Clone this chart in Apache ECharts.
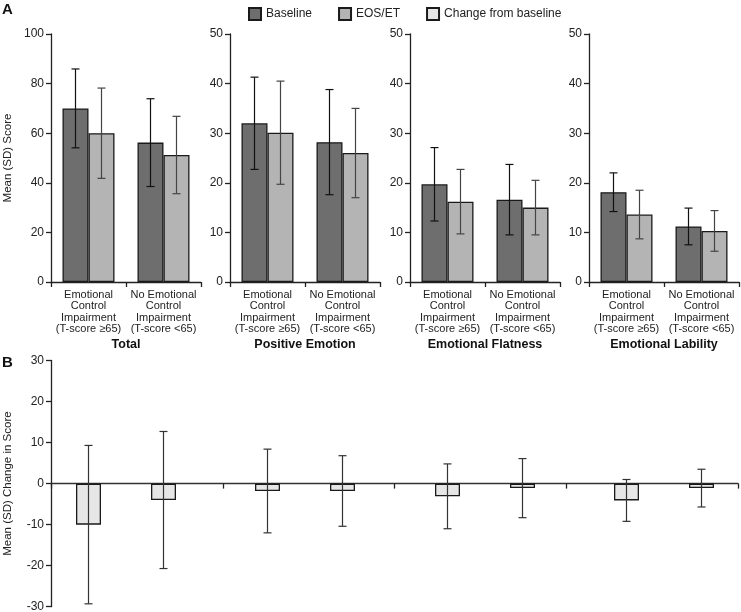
<!DOCTYPE html>
<html>
<head>
<meta charset="utf-8">
<script src="https://cdn.jsdelivr.net/npm/echarts@6/dist/echarts.min.js"></script>
<style>html,body{margin:0;padding:0;background:#fff}#c{width:741px;height:612px}</style>
</head>
<body>
<div id="c"></div>
<script>
// ---- data ----
const panelTitles = ['Total', 'Positive Emotion', 'Emotional Flatness', 'Emotional Lability'];
const groupLabels = ['Emotional\nControl\nImpairment\n(T-score \u226565)', 'No Emotional\nControl\nImpairment\n(T-score <65)'];
const panelMax = [100, 50, 50, 50];
const panelStep = [20, 10, 10, 10];
const changeRange = [-30, 30];
const changeStep = 10;
// order: panel 1 grp1, panel 1 grp2, panel 2 grp1, ...
const baselineMean = [70.0, 56.2, 32.0, 28.2, 19.7, 16.6, 18.1, 11.2];
const baselineSD   = [15.9, 17.7,  9.3, 10.6,  7.4,  7.1,  3.9,  3.7];
const eosMean      = [60.0, 51.2, 30.1, 26.0, 16.2, 15.0, 13.6, 10.3];
const eosSD        = [18.2, 15.6, 10.4,  9.0,  6.5,  5.5,  4.9,  4.1];
const changeMean   = [-10.0, -4.0, -1.8, -1.8, -3.1, -1.1, -4.1, -1.1];
const changeSD     = [ 19.3, 16.7, 10.2,  8.6,  7.9,  7.2,  5.1,  4.6];

const FONT = "'Liberation Sans', Arial, Helvetica, sans-serif";
const AXC = '#222';
const gridLefts = [51, 230, 410, 589];
const gridW = 150;
const barW = 26;

function errRender(offset, color) {
  return function (params, api) {
    const i = api.value(0), m = api.value(1), s = api.value(2);
    const t = api.coord([i, m + s]);
    const b = api.coord([i, m - s]);
    const x = t[0] + offset;
    const cap = 4;
    const st = { stroke: color, lineWidth: 1.2 };
    return {
      type: 'group',
      children: [
        { type: 'line', shape: { x1: x, y1: t[1], x2: x, y2: b[1] }, style: st },
        { type: 'line', shape: { x1: x - cap, y1: t[1], x2: x + cap, y2: t[1] }, style: st },
        { type: 'line', shape: { x1: x - cap, y1: b[1], x2: x + cap, y2: b[1] }, style: st }
      ]
    };
  };
}

const grid = [], xAxis = [], yAxis = [], series = [];
const axisLine = { show: true, lineStyle: { color: AXC, width: 1.3 } };
const axisTick = { show: true, length: 5, lineStyle: { color: AXC, width: 1.3 } };

// Panel A
for (let k = 0; k < 4; k++) {
  grid.push({ left: gridLefts[k], width: gridW, top: 34, bottom: 330, outerBoundsMode: 'none', containLabel: false });
  xAxis.push({
    gridIndex: k, type: 'category', data: groupLabels,
    axisLine: axisLine, axisTick: axisTick,
    axisLabel: { interval: 0, fontSize: 11, lineHeight: 11.4, color: AXC, margin: 7, fontFamily: FONT },
    name: panelTitles[k], nameLocation: 'middle', nameGap: 56,
    nameTextStyle: { fontWeight: 'bold', fontSize: 12.5, color: '#111', fontFamily: FONT }
  });
  yAxis.push({
    gridIndex: k, type: 'value', min: 0, max: panelMax[k], interval: panelStep[k],
    splitLine: { show: false }, axisLine: axisLine, axisTick: axisTick,
    axisLabel: { fontSize: 12, color: AXC, margin: 7, fontFamily: FONT },
    name: k === 0 ? 'Mean (SD) Score' : '', nameLocation: 'middle', nameGap: 37,
    nameTextStyle: { fontSize: 11.5, color: AXC, fontFamily: FONT }
  });
  const bm = baselineMean.slice(2 * k, 2 * k + 2), bs = baselineSD.slice(2 * k, 2 * k + 2);
  const em = eosMean.slice(2 * k, 2 * k + 2), es = eosSD.slice(2 * k, 2 * k + 2);
  series.push({
    name: 'Baseline', type: 'bar', xAxisIndex: k, yAxisIndex: k, data: bm,
    barWidth: barW, barGap: '0%',
    itemStyle: { color: '#6e6e6e', borderColor: '#1a1a1a', borderWidth: 1.3 }
  });
  series.push({
    name: 'EOS/ET', type: 'bar', xAxisIndex: k, yAxisIndex: k, data: em,
    barWidth: barW, barGap: '0%',
    itemStyle: { color: '#b4b4b4', borderColor: '#1a1a1a', borderWidth: 1.3 }
  });
  series.push({
    type: 'custom', xAxisIndex: k, yAxisIndex: k, z: 5,
    renderItem: errRender(-barW / 2, '#111'),
    data: bm.map((v, i) => [i, v, bs[i]]), encode: { x: 0, y: 1 }
  });
  series.push({
    type: 'custom', xAxisIndex: k, yAxisIndex: k, z: 5,
    renderItem: errRender(barW / 2, '#444'),
    data: em.map((v, i) => [i, v, es[i]]), encode: { x: 0, y: 1 }
  });
}

// Panel B frame (axis line at zero, y-axis)
grid.push({ left: 51, right: 3, top: 360.5, bottom: 5.3, outerBoundsMode: 'none', containLabel: false });
xAxis.push({
  gridIndex: 4, type: 'category', data: ['', '', '', ''],
  axisLine: { show: true, onZero: true, lineStyle: { color: '#333', width: 1.3 } },
  axisTick: axisTick, axisLabel: { show: false }
});
yAxis.push({
  gridIndex: 4, type: 'value', min: changeRange[0], max: changeRange[1], interval: changeStep,
  splitLine: { show: false }, axisLine: axisLine, axisTick: axisTick,
  axisLabel: { fontSize: 12, color: AXC, margin: 7, fontFamily: FONT },
  name: 'Mean (SD) Change in Score', nameLocation: 'middle', nameGap: 37,
  nameTextStyle: { fontSize: 11.5, color: AXC, fontFamily: FONT }
});
for (let k = 0; k < 4; k++) {
  const gi = 5 + k;
  grid.push({ left: gridLefts[k], width: gridW, top: 360.5, bottom: 5.3, outerBoundsMode: 'none', containLabel: false });
  xAxis.push({ gridIndex: gi, type: 'category', data: groupLabels, show: false });
  yAxis.push({ gridIndex: gi, type: 'value', min: changeRange[0], max: changeRange[1], show: false });
  const cm = changeMean.slice(2 * k, 2 * k + 2), cs = changeSD.slice(2 * k, 2 * k + 2);
  series.push({
    name: 'Change from baseline', type: 'bar', xAxisIndex: gi, yAxisIndex: gi, data: cm,
    barWidth: 25,
    itemStyle: { color: '#e6e6e6', borderColor: '#1a1a1a', borderWidth: 1.3 }
  });
  series.push({
    type: 'custom', xAxisIndex: gi, yAxisIndex: gi, z: 5,
    renderItem: errRender(0, '#333'),
    data: cm.map((v, i) => [i, v, cs[i]]), encode: { x: 0, y: 1 }
  });
}

const chart = echarts.init(document.getElementById('c'), null, { renderer: 'canvas' });
chart.setOption({
  backgroundColor: '#fff',
  animation: false,
  textStyle: { fontFamily: FONT },
  legend: {
    data: ['Baseline', 'EOS/ET', 'Change from baseline'],
    left: 243, top: 2, itemWidth: 12, itemHeight: 12, itemGap: 26, icon: 'rect',
    textStyle: { fontSize: 12, color: AXC, fontFamily: FONT }
  },
  graphic: [
    { type: 'text', left: 2, top: 2, style: { text: 'A', font: "bold 15px " + FONT, fill: '#111' } },
    { type: 'text', left: 2, top: 355, style: { text: 'B', font: "bold 15px " + FONT, fill: '#111' } }
  ],
  grid, xAxis, yAxis, series
});
</script>
</body>
</html>
